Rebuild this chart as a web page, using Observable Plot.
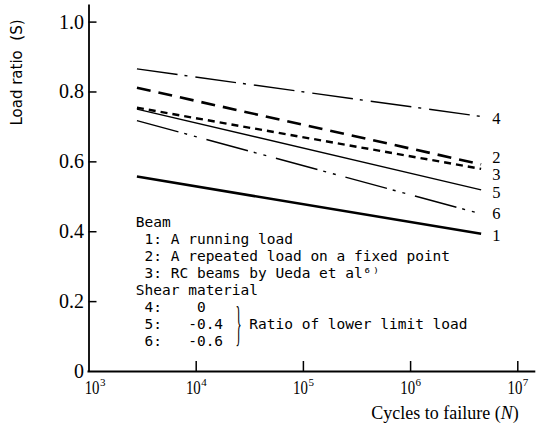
<!DOCTYPE html>
<html><head><meta charset="utf-8">
<script src="https://cdn.jsdelivr.net/npm/d3@7"></script>
<script src="https://cdn.jsdelivr.net/npm/@observablehq/plot@0.6"></script>
<style>html,body{margin:0;padding:0;background:#fff}#chart svg{display:block}</style>
</head><body><div id="chart"></div>
<script>
// ---- data ----
const lineIds = ["1", "2", "3", "4", "5", "6"];
const cyclesRange = [2800, 4550000];               // N at both ends of every line
const loadAtStart = [0.558, 0.812, 0.755, 0.866, 0.751, 0.718];
const loadAtEnd   = [0.394, 0.593, 0.580, 0.730, 0.520, 0.451];
const endLabelLoad = [0.390, 0.612, 0.563, 0.724, 0.512, 0.452];
const xTicks = [1e3, 1e4, 1e5, 1e6, 1e7];
const xTickExp = ["3", "4", "5", "6", "7"];
const yTicks = [0, 0.2, 0.4, 0.6, 0.8, 1.0];
const yTickLabels = ["0", "0.2", "0.4", "0.6", "0.8", "1.0"];
const yLabel = "Load ratio  (S)";
const xLabel = "Cycles to failure (N)";
const beamLines = [
  "Beam",
  " 1: A running load",
  " 2: A repeated load on a fixed point",
  " 3: RC beams by Ueda et al\u2076\u207e",
  "Shear material"
];
const shearLines = [" 4:    0", " 5:   -0.4", " 6:   -0.6"];
const shearNote = "Ratio of lower limit load";

// ---- styles ----
const lineStyle = {
  "1": {strokeWidth: 2.6},
  "2": {strokeWidth: 2.6, strokeDasharray: "14,8"},
  "3": {strokeWidth: 2.4, strokeDasharray: "7,5"},
  "4": {strokeWidth: 1.4, strokeDasharray: "41,7,3,8"},
  "5": {strokeWidth: 1.4},
  "6": {strokeWidth: 1.4, strokeDasharray: "43,6,3,7,3,10"}
};
const W = 540, H = 425;
const mL = 88.5, mR = 22.7, mT = 21.6, mB = 54;
const frameW = W - mL - mR, frameH = H - mT - mB;
const serif = "'Liberation Serif', 'DejaVu Serif', serif";
const mono = "'DejaVu Sans Mono', monospace";
const legFont = 14.5, legLH = 1.18, legRow = legFont * legLH, legX = 135.3, legY = 214;
const charW = legFont * 0.602;

const rows = lineIds.flatMap((id, i) => [
  {id, N: cyclesRange[0], S: loadAtStart[i]},
  {id, N: cyclesRange[1], S: loadAtEnd[i]}
]);
const xTickStyle = {frameAnchor: "bottom", lineAnchor: "middle", fontFamily: serif, fill: "#000"};
const legStyle = {frameAnchor: "top-left", textAnchor: "start", lineAnchor: "top",
  lineHeight: legLH, fontSize: legFont, fontFamily: mono, fill: "#000"};

const svg = Plot.plot({
  width: W, height: H,
  marginLeft: mL, marginRight: mR, marginTop: mT, marginBottom: mB,
  style: {background: "#fff", color: "#000", overflow: "visible"},
  x: {type: "log", domain: [1e3, 1e7], axis: null},
  y: {domain: [0, 1], axis: null},
  marks: [
    ...lineIds.map(id => Plot.line(rows.filter(d => d.id === id), {
      x: "N", y: "S", stroke: "#000", strokeLinecap: "butt", ...lineStyle[id]
    })),
    // axis lines
    Plot.ruleX([1e3], {stroke: "#000", strokeWidth: 1.8, insetTop: -17, insetBottom: -1}),
    Plot.ruleY([0], {stroke: "#000", strokeWidth: 1.8, insetRight: -18, insetLeft: -1}),
    // inward ticks
    Plot.tickX(xTicks.slice(1), {x: d => d, stroke: "#000", strokeWidth: 1.5, insetTop: frameH - 10}),
    Plot.tickY(yTicks.slice(1), {y: d => d, stroke: "#000", strokeWidth: 1.5, insetRight: frameW - 8}),
    // y tick labels
    Plot.text(yTicks, {y: d => d, text: (d, i) => yTickLabels[i], frameAnchor: "left",
      textAnchor: "end", dx: -5, fontSize: 20, fontFamily: serif, fill: "#000"}),
    // x tick labels: base + exponent (first one nudged right, clear of the y axis)
    Plot.text(xTicks.slice(0, 1), {x: d => d, text: () => "10", dy: 16.5, dx: 10.5,
      textAnchor: "end", fontSize: 19, ...xTickStyle}),
    Plot.text(xTicks.slice(0, 1), {x: d => d, text: (d, i) => xTickExp[i], dy: 10.5, dx: 11,
      textAnchor: "start", fontSize: 11, ...xTickStyle}),
    Plot.text(xTicks.slice(1), {x: d => d, text: () => "10", dy: 16.5, dx: 4.5,
      textAnchor: "end", fontSize: 19, ...xTickStyle}),
    Plot.text(xTicks.slice(1), {x: d => d, text: (d, i) => xTickExp[i + 1], dy: 10.5, dx: 5,
      textAnchor: "start", fontSize: 11, ...xTickStyle}),
    // axis titles
    Plot.text([yLabel], {frameAnchor: "top-left", dx: 17 - mL, dy: 72 - mT, rotate: -90,
      textAnchor: "middle", lineAnchor: "middle", fontSize: 15, fontFamily: "'DejaVu Sans', sans-serif", fill: "#000"}),
    Plot.text([xLabel], {frameAnchor: "bottom-right", dx: 1, dy: 42, textAnchor: "end",
      lineAnchor: "middle", fontSize: 18, fontFamily: serif, fill: "#000"}),
    // legend block
    Plot.text([beamLines.join("\n")], {dx: legX - mL, dy: legY - mT, ...legStyle}),
    Plot.text([shearLines.join("\n")], {dx: legX - mL, dy: legY + 5 * legRow - mT, ...legStyle}),
    Plot.text([shearNote], {dx: legX + 13 * charW - mL, dy: legY + 6 * legRow - mT, ...legStyle}),
    Plot.text(["}"], {frameAnchor: "top-left", dx: 238 - mL, dy: legY + 6.5 * legRow - 1 - mT, textAnchor: "middle",
      lineAnchor: "middle", fontSize: 16, fontFamily: serif, fill: "#000"}),
    // end labels
    Plot.text(lineIds, {x: () => cyclesRange[1], y: (d, i) => endLabelLoad[i], text: d => d,
      dx: 11, textAnchor: "start", fontSize: 16.5, fontFamily: serif, fill: "#000"})
  ]
});

function scaleText(el, sx, sy) {
  const t = el.getAttribute("transform") || "";
  const x = +el.getAttribute("x") || 0, y = +el.getAttribute("y") || 0;
  el.setAttribute("transform", `${t} translate(${x},${y}) scale(${sx},${sy}) translate(${-x},${-y})`);
}
const root = d3.select(svg);
root.selectAll("text").filter(function () { return this.textContent === "}"; })
  .each(function () { scaleText(this, 0.8, 3.0); });
root.selectAll("text").filter(function () { return this.textContent === "10"; })
  .each(function () { scaleText(this, 0.78, 1); });
root.selectAll("text").filter(function () { return this.textContent === xLabel; })
  .each(function () {
    const s = d3.select(this);
    s.text(null);
    s.append("tspan").text("Cycles to failure (");
    s.append("tspan").attr("font-style", "italic").text("N");
    s.append("tspan").text(")");
  });
document.getElementById("chart").append(svg);
</script>
</body></html>
